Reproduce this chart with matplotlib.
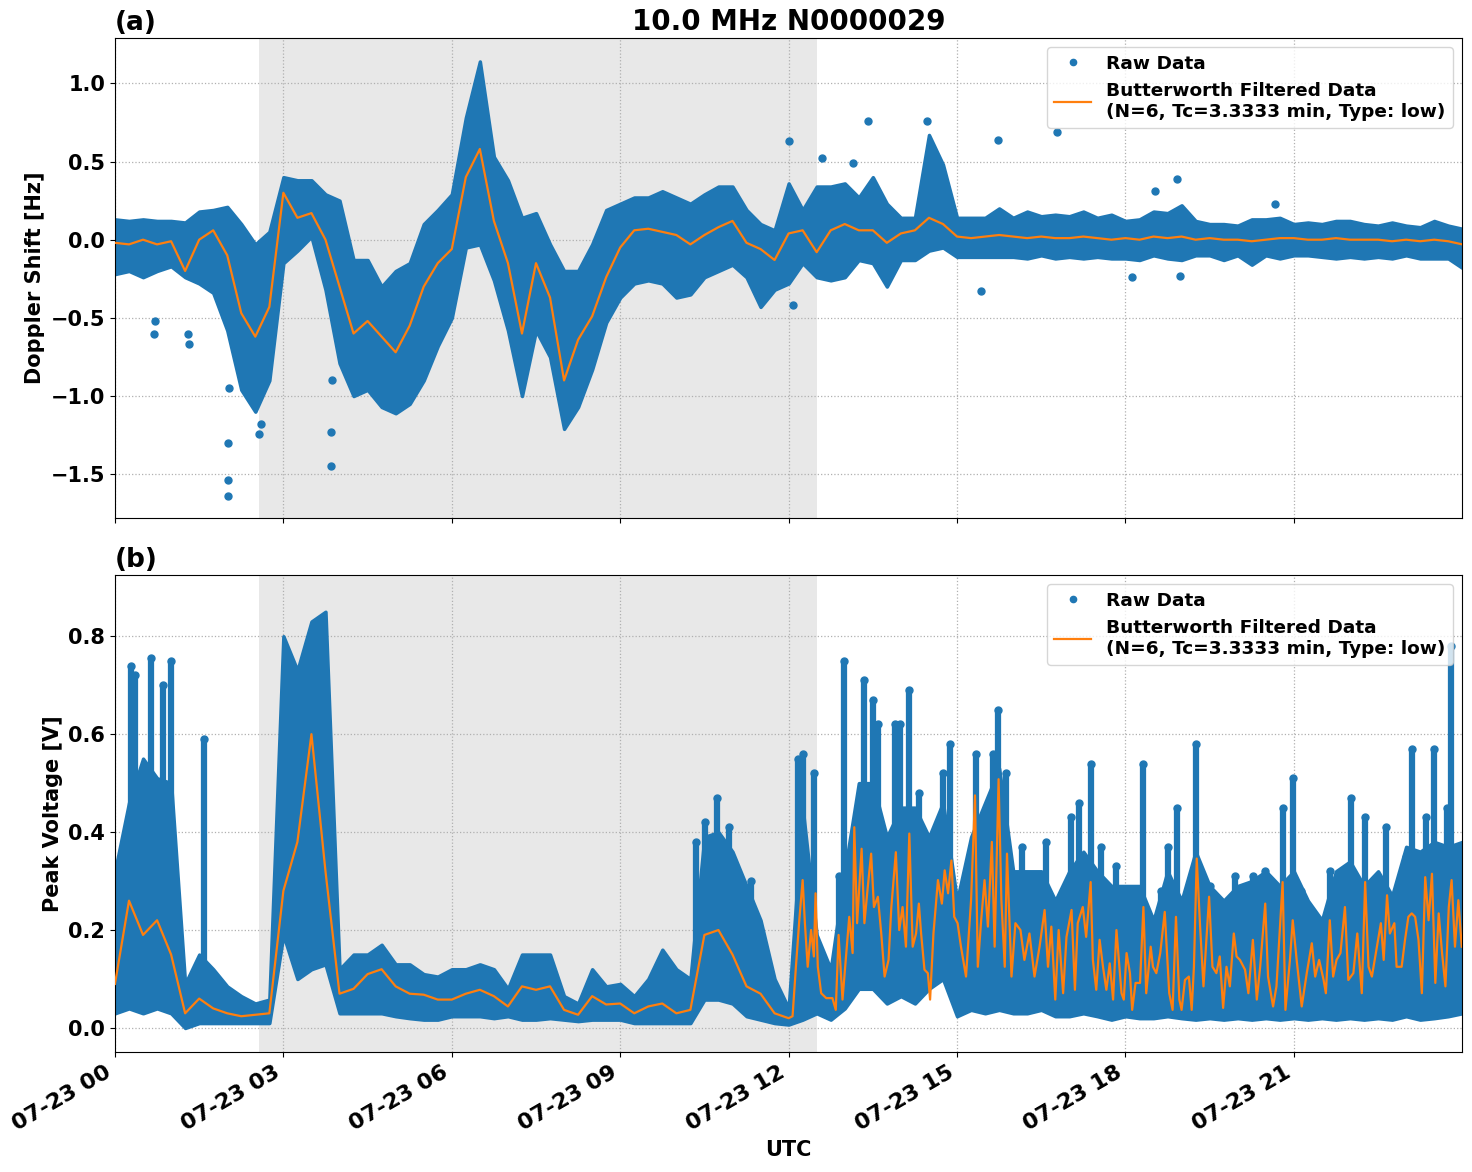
import numpy as np
import pandas as pd
import matplotlib
matplotlib.use("Agg")
import matplotlib.pyplot as plt
import matplotlib.dates as mdates
from matplotlib.lines import Line2D

# ---------- data (15-min bins 00:00 .. 24:00) ----------
day = pd.Timestamp("2023-07-23")
times = pd.date_range(day, periods=97, freq="15min")

# (a) Doppler shift: raw-data band and filtered curve
dop_top = [0.13, 0.12, 0.13, 0.12, 0.12, 0.11, 0.18, 0.19, 0.21, 0.10, -0.03, 0.05,
           0.40, 0.38, 0.38, 0.29, 0.25, -0.13, -0.13, -0.30, -0.20, -0.15, 0.10, 0.19,
           0.29, 0.78, 1.14, 0.53, 0.38, 0.14, 0.17, -0.03, -0.20, -0.20, -0.03, 0.19,
           0.23, 0.27, 0.27, 0.31, 0.27, 0.23, 0.29, 0.34, 0.34, 0.19, 0.10, 0.06,
           0.36, 0.19, 0.34, 0.34, 0.36, 0.27, 0.40, 0.23, 0.14, 0.14, 0.67, 0.48,
           0.14, 0.14, 0.14, 0.20, 0.14, 0.18, 0.15, 0.16, 0.15, 0.18, 0.14, 0.16,
           0.12, 0.13, 0.18, 0.17, 0.22, 0.12, 0.10, 0.10, 0.09, 0.13, 0.13, 0.14,
           0.10, 0.11, 0.10, 0.12, 0.12, 0.10, 0.09, 0.11, 0.09, 0.08, 0.12, 0.09, 0.07]
dop_bot = [-0.22, -0.20, -0.24, -0.20, -0.17, -0.24, -0.28, -0.34, -0.58, -0.96, -1.10, -0.90,
           -0.15, -0.07, 0.02, -0.32, -0.79, -1.00, -0.96, -1.07, -1.11, -1.05, -0.90, -0.68,
           -0.50, -0.05, -0.03, -0.26, -0.58, -1.00, -0.58, -0.75, -1.21, -1.07, -0.83, -0.53,
           -0.37, -0.28, -0.26, -0.28, -0.37, -0.35, -0.24, -0.20, -0.16, -0.24, -0.43, -0.32,
           -0.28, -0.15, -0.24, -0.26, -0.24, -0.13, -0.15, -0.30, -0.13, -0.13, -0.07, -0.05,
           -0.11, -0.11, -0.11, -0.11, -0.11, -0.12, -0.10, -0.12, -0.11, -0.12, -0.11, -0.12,
           -0.12, -0.13, -0.10, -0.12, -0.13, -0.10, -0.10, -0.13, -0.10, -0.16, -0.10, -0.12,
           -0.10, -0.10, -0.11, -0.12, -0.11, -0.12, -0.11, -0.12, -0.10, -0.12, -0.12, -0.12, -0.18]
dop_filt = [-0.02, -0.03, 0.00, -0.03, -0.01, -0.20, 0.00, 0.06, -0.10, -0.47, -0.62, -0.43,
            0.30, 0.14, 0.17, 0.00, -0.30, -0.60, -0.52, -0.62, -0.72, -0.55, -0.30, -0.15,
            -0.06, 0.40, 0.58, 0.12, -0.15, -0.60, -0.15, -0.37, -0.90, -0.64, -0.49, -0.24,
            -0.05, 0.06, 0.07, 0.05, 0.03, -0.03, 0.03, 0.08, 0.12, -0.02, -0.06, -0.13,
            0.04, 0.06, -0.08, 0.06, 0.10, 0.06, 0.06, -0.02, 0.04, 0.06, 0.14, 0.10,
            0.02, 0.01, 0.02, 0.03, 0.02, 0.01, 0.02, 0.01, 0.01, 0.02, 0.01, 0.00,
            0.01, 0.00, 0.02, 0.01, 0.02, 0.00, 0.01, 0.00, 0.00, -0.01, 0.00, 0.01,
            0.01, 0.00, 0.00, 0.01, 0.00, 0.00, 0.00, -0.01, 0.00, -0.01, 0.00, -0.01, -0.03]
# isolated raw points outside the band: (hour, value)
dop_out_h = [0.70, 0.72, 1.32, 1.30, 2.02, 2.02, 2.02, 2.03, 2.57, 2.60, 3.85, 3.85, 3.86,
             12.00, 12.07, 12.59, 13.14, 13.42, 14.46, 15.42, 15.73, 16.78, 18.12, 18.52,
             18.92, 18.98, 20.66]
dop_out_v = [-0.60, -0.52, -0.67, -0.60, -1.64, -1.54, -1.30, -0.95, -1.24, -1.18, -1.45, -1.23,
             -0.90, 0.63, -0.42, 0.52, 0.49, 0.76, 0.76, -0.33, 0.64, 0.69, -0.24, 0.31,
             0.39, -0.23, 0.23]

# (b) Peak voltage: raw-data band
pv_bot = [0.030, 0.040, 0.030, 0.040, 0.030, 0.000, 0.010, 0.010, 0.010, 0.010, 0.010, 0.010,
          0.190, 0.100, 0.120, 0.130, 0.030, 0.030, 0.030, 0.030, 0.024, 0.020, 0.017, 0.017,
          0.024, 0.024, 0.024, 0.020, 0.024, 0.017, 0.017, 0.020, 0.017, 0.014, 0.017, 0.017,
          0.017, 0.010, 0.010, 0.010, 0.010, 0.010, 0.058, 0.058, 0.050, 0.024, 0.017, 0.010,
          0.007, 0.017, 0.030, 0.017, 0.040, 0.080, 0.080, 0.050, 0.065, 0.050, 0.080, 0.100,
          0.024, 0.037, 0.030, 0.037, 0.030, 0.030, 0.037, 0.024, 0.024, 0.030, 0.024, 0.017,
          0.024, 0.020, 0.020, 0.024, 0.020, 0.017, 0.020, 0.017, 0.020, 0.017, 0.020, 0.017,
          0.020, 0.017, 0.020, 0.017, 0.020, 0.017, 0.020, 0.017, 0.024, 0.017, 0.020, 0.024, 0.030]
pv_top = [0.32, 0.46, 0.55, 0.51, 0.50, 0.09, 0.15, 0.12, 0.085, 0.065, 0.05, 0.058,
          0.80, 0.73, 0.83, 0.85, 0.12, 0.15, 0.15, 0.17, 0.13, 0.13, 0.11, 0.105,
          0.12, 0.12, 0.13, 0.12, 0.08, 0.15, 0.15, 0.15, 0.065, 0.05, 0.12, 0.085,
          0.09, 0.065, 0.10, 0.16, 0.12, 0.10, 0.39, 0.40, 0.36, 0.29, 0.22, 0.10,
          0.04, 0.45, 0.19, 0.12, 0.32, 0.50, 0.50, 0.39, 0.45, 0.45, 0.39, 0.46,
          0.26, 0.39, 0.46, 0.53, 0.32, 0.32, 0.32, 0.26, 0.32, 0.36, 0.32, 0.29,
          0.29, 0.29, 0.22, 0.32, 0.26, 0.36, 0.29, 0.26, 0.29, 0.30, 0.32, 0.29,
          0.32, 0.26, 0.22, 0.32, 0.34, 0.29, 0.32, 0.27, 0.37, 0.36, 0.38, 0.37, 0.38]
# (b) filtered curve: 15-min bins up to 12:00, then read peak by peak
pv_filt_early = [0.09, 0.26, 0.19, 0.22, 0.15, 0.03, 0.06, 0.04, 0.030, 0.024, 0.027, 0.030,
                 0.28, 0.38, 0.60, 0.32, 0.07, 0.08, 0.11, 0.12, 0.085, 0.07, 0.068, 0.058,
                 0.058, 0.07, 0.078, 0.065, 0.044, 0.085, 0.078, 0.085, 0.037, 0.027, 0.065, 0.048,
                 0.050, 0.030, 0.044, 0.050, 0.030, 0.037, 0.19, 0.20, 0.15, 0.085, 0.07, 0.03]
pv_filt_late_h = [12.00, 12.07, 12.13, 12.19, 12.25, 12.29, 12.34, 12.40, 12.45, 12.48, 12.52,
                  12.58, 12.67, 12.78, 12.84, 12.89, 12.96, 13.08, 13.14, 13.17, 13.22, 13.30,
                  13.35, 13.41, 13.47, 13.52, 13.59, 13.65, 13.71, 13.78, 13.83, 13.91, 13.97,
                  14.03, 14.09, 14.15, 14.21, 14.27, 14.32, 14.36, 14.42, 14.48, 14.52, 14.58,
                  14.66, 14.73, 14.78, 14.84, 14.90, 14.95, 15.01, 15.07, 15.16, 15.25, 15.32,
                  15.37, 15.43, 15.49, 15.55, 15.62, 15.67, 15.74, 15.79, 15.85, 15.89, 15.97,
                  16.04, 16.13, 16.20, 16.29, 16.38, 16.47, 16.56, 16.62, 16.68, 16.75, 16.81,
                  16.89, 16.95, 17.04, 17.10, 17.15, 17.24, 17.30, 17.38, 17.42, 17.48, 17.54,
                  17.60, 17.66, 17.72, 17.78, 17.84, 17.93, 17.97, 18.02, 18.08, 18.12, 18.18,
                  18.26, 18.32, 18.37, 18.45, 18.49, 18.55, 18.62, 18.70, 18.78, 18.84, 18.90,
                  18.96, 19.00, 19.06, 19.13, 19.18, 19.22, 19.27, 19.33, 19.39, 19.49, 19.55,
                  19.62, 19.68, 19.74, 19.80, 19.86, 19.93, 19.98, 20.04, 20.13, 20.19, 20.27,
                  20.34, 20.40, 20.49, 20.54, 20.63, 20.69, 20.80, 20.85, 20.93, 20.98, 21.05,
                  21.14, 21.23, 21.32, 21.38, 21.45, 21.53, 21.57, 21.64, 21.70, 21.76, 21.83,
                  21.91, 21.97, 22.06, 22.13, 22.21, 22.27, 22.33, 22.39, 22.48, 22.55, 22.60,
                  22.66, 22.71, 22.79, 22.83, 22.92, 22.98, 23.04, 23.10, 23.16, 23.22, 23.28,
                  23.34, 23.40, 23.46, 23.52, 23.58, 23.64, 23.70, 23.76, 23.81, 23.87, 23.93,
                  23.99]
pv_filt_late_v = [0.020, 0.024, 0.125, 0.220, 0.302, 0.214, 0.125, 0.200, 0.146, 0.275, 0.125,
                  0.071, 0.061, 0.061, 0.037, 0.190, 0.058, 0.227, 0.153, 0.410, 0.214, 0.366,
                  0.214, 0.288, 0.356, 0.247, 0.268, 0.193, 0.105, 0.139, 0.247, 0.359, 0.200,
                  0.247, 0.166, 0.397, 0.166, 0.193, 0.254, 0.193, 0.119, 0.112, 0.058, 0.193,
                  0.302, 0.254, 0.322, 0.275, 0.342, 0.227, 0.214, 0.166, 0.105, 0.261, 0.475,
                  0.125, 0.220, 0.302, 0.207, 0.380, 0.166, 0.508, 0.261, 0.125, 0.356, 0.105,
                  0.214, 0.200, 0.139, 0.193, 0.105, 0.166, 0.241, 0.125, 0.207, 0.058, 0.200,
                  0.071, 0.186, 0.241, 0.078, 0.214, 0.247, 0.186, 0.298, 0.139, 0.078, 0.180,
                  0.125, 0.078, 0.132, 0.058, 0.200, 0.071, 0.058, 0.153, 0.112, 0.037, 0.092,
                  0.092, 0.247, 0.071, 0.166, 0.125, 0.112, 0.153, 0.237, 0.071, 0.037, 0.227,
                  0.058, 0.037, 0.098, 0.105, 0.037, 0.125, 0.346, 0.207, 0.085, 0.268, 0.125,
                  0.112, 0.146, 0.041, 0.125, 0.085, 0.193, 0.146, 0.139, 0.119, 0.071, 0.180,
                  0.058, 0.125, 0.254, 0.105, 0.044, 0.085, 0.298, 0.037, 0.139, 0.220, 0.139,
                  0.044, 0.112, 0.173, 0.105, 0.139, 0.098, 0.071, 0.220, 0.105, 0.139, 0.153,
                  0.247, 0.098, 0.112, 0.193, 0.071, 0.298, 0.125, 0.105, 0.166, 0.214, 0.139,
                  0.271, 0.193, 0.214, 0.125, 0.125, 0.180, 0.227, 0.234, 0.227, 0.180, 0.071,
                  0.308, 0.220, 0.315, 0.092, 0.234, 0.153, 0.085, 0.247, 0.302, 0.166, 0.261,
                  0.166]
# narrow spikes of raw points above the band: (hour, top value)
pv_spk_h = [0.28, 0.36, 0.64, 0.85, 1.00, 1.58, 10.35, 10.51, 10.72, 10.93, 11.33, 12.16,
            12.25, 12.46, 12.89, 12.98, 13.34, 13.50, 13.60, 13.90, 13.98, 14.15, 14.33,
            14.75, 14.88, 15.34, 15.64, 15.73, 15.88, 16.15, 16.59, 17.03, 17.18, 17.38,
            17.56, 17.84, 18.31, 18.64, 18.76, 18.91, 19.26, 19.50, 19.95, 20.27, 20.49,
            20.81, 20.99, 21.13, 21.64, 22.02, 22.26, 22.65, 23.00, 23.10, 23.36, 23.50,
            23.72, 23.80]
pv_spk_v = [0.74, 0.72, 0.755, 0.70, 0.75, 0.59, 0.38, 0.42, 0.47, 0.41, 0.30, 0.55,
            0.56, 0.52, 0.31, 0.75, 0.71, 0.67, 0.62, 0.62, 0.62, 0.69, 0.48,
            0.52, 0.58, 0.56, 0.56, 0.65, 0.52, 0.37, 0.38, 0.43, 0.46, 0.54,
            0.37, 0.33, 0.54, 0.28, 0.37, 0.45, 0.58, 0.29, 0.31, 0.31, 0.32,
            0.45, 0.51, 0.28, 0.32, 0.47, 0.43, 0.41, 0.35, 0.57, 0.43, 0.57,
            0.45, 0.78]

shade_start, shade_end = 2.56, 12.51   # shaded interval, hours UTC

# ---------- styling ----------
blue, orange = "#1f77b4", "#ff7f0e"
plt.rcParams["font.family"] = ["DejaVu Sans"]
plt.rcParams["font.weight"] = "bold"
plt.rcParams["axes.labelweight"] = "bold"
plt.rcParams["axes.titleweight"] = "bold"


def hours(h):
    return day + pd.to_timedelta(np.asarray(h), unit="h")


pv_filt_t = list(times[:len(pv_filt_early)]) + list(hours(pv_filt_late_h))
pv_filt = pv_filt_early + pv_filt_late_v

fig = plt.figure(figsize=(14.72, 11.72), dpi=100)
ax_a = fig.add_axes([0.0781, 0.558, 0.9151, 0.4096])
ax_b = fig.add_axes([0.0781, 0.1024, 0.9151, 0.4070], sharex=ax_a)

legend_handles = [
    Line2D([], [], ls="none", marker="o", ms=4.5, color=blue, label="Raw Data"),
    Line2D([], [], color=orange, lw=1.6,
           label="Butterworth Filtered Data\n(N=6, Tc=3.3333 min, Type: low)"),
]

# panel (a)
ax = ax_a
ax.axvspan(hours(shade_start), hours(shade_end), color="#d3d3d3", alpha=0.5, lw=0, zorder=0)
ax.fill_between(times, dop_bot, dop_top, color=blue, lw=2.5, edgecolor=blue, zorder=2)
ax.plot(hours(dop_out_h), dop_out_v, "o", ms=5, color=blue, zorder=2)
ax.plot(times, dop_filt, color=orange, lw=1.6, zorder=3)
ax.set_ylim(-1.78, 1.29)
ax.set_yticks([-1.5, -1.0, -0.5, 0.0, 0.5, 1.0])
ax.set_ylabel("Doppler Shift [Hz]", fontsize=15)
ax.set_title("10.0 MHz N0000029", fontsize=20, fontweight="bold")
ax.set_title("(a)", loc="left", fontsize=19, fontweight="bold")
ax.tick_params(labelbottom=False)

# panel (b)
ax = ax_b
ax.axvspan(hours(shade_start), hours(shade_end), color="#d3d3d3", alpha=0.5, lw=0, zorder=0)
ax.fill_between(times, pv_bot, pv_top, color=blue, lw=2.5, edgecolor=blue, zorder=2)
ax.vlines(hours(pv_spk_h), 0.1, pv_spk_v, color=blue, lw=4.5, zorder=2)
ax.plot(hours(pv_spk_h), pv_spk_v, "o", ms=5, color=blue, zorder=2)
ax.plot(pv_filt_t, pv_filt, color=orange, lw=1.6, zorder=3)
ax.set_ylim(-0.049, 0.925)
ax.set_yticks([0.0, 0.2, 0.4, 0.6, 0.8])
ax.set_ylabel("Peak Voltage [V]", fontsize=15)
ax.set_xlabel("UTC", fontsize=15)
ax.set_title("(b)", loc="left", fontsize=19, fontweight="bold")

for ax in (ax_a, ax_b):
    ax.set_xlim(times[0], hours(23.995))
    ax.grid(True, ls=":", color="#b0b0b0", lw=0.9)
    ax.set_axisbelow(True)
    ax.tick_params(axis="y", labelsize=15)
    ax.tick_params(axis="x", labelsize=16)
    ax.legend(handles=legend_handles, loc="upper right", handlelength=2.0,
              prop={"weight": "bold", "size": 13.3})

ax_b.xaxis.set_major_locator(mdates.HourLocator(byhour=range(0, 24, 3)))
ax_b.xaxis.set_major_formatter(mdates.DateFormatter("%m-%d %H"))
for lab in ax_b.get_xticklabels():
    lab.set_rotation(30)
    lab.set_ha("right")

fig.savefig("out.png", dpi=100)
